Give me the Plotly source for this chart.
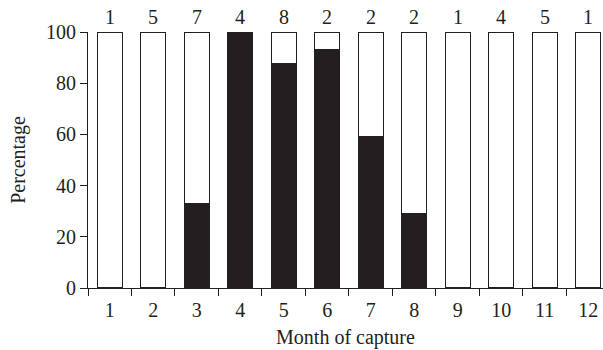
import plotly.graph_objects as go

# Monthly capture data
months = [str(m) for m in range(1, 13)]
pct_black = [0, 0, 33, 100, 87.5, 93, 59, 29, 0, 0, 0, 0]
pct_white = [100 - v for v in pct_black]
sample_n = [1, 5, 7, 4, 8, 2, 2, 2, 1, 4, 5, 1]

FONT = "Liberation Serif, Times New Roman, serif"
INK = "#231f20"
FS = 20

fig = go.Figure()
fig.add_trace(go.Bar(
    x=months, y=pct_black, marker=dict(color=INK, line=dict(color=INK, width=1.2)),
    width=0.58, showlegend=False,
))
fig.add_trace(go.Bar(
    x=months, y=pct_white, marker=dict(color="white", line=dict(color=INK, width=1.2)),
    width=0.58, showlegend=False,
))

# sample sizes above each bar (category index positions)
for i, n in enumerate(sample_n):
    fig.add_annotation(x=i, y=100, text=str(n), showarrow=False,
                       yanchor="bottom", yshift=2,
                       font=dict(family=FONT, size=FS, color=INK))

fig.update_layout(
    width=603, height=350,
    margin=dict(l=88, r=0, t=32, b=62),
    barmode="stack", bargap=0.42,
    plot_bgcolor="white", paper_bgcolor="white",
    font=dict(family=FONT, size=FS, color=INK),
)
fig.update_xaxes(
    type="category", range=[-0.5, 11.34],
    showline=True, linecolor=INK, linewidth=1.2,
    ticks="outside", tickson="boundaries", ticklen=7, tickcolor=INK, tickwidth=1.2,
    ticklabelstandoff=4,
    showgrid=False, zeroline=False,
    title=dict(text="Month of capture", standoff=9, font=dict(size=FS)),
)
fig.update_yaxes(
    range=[0, 100], tickvals=[0, 20, 40, 60, 80, 100],
    showline=True, linecolor=INK, linewidth=1.2,
    ticks="outside", ticklen=7, tickcolor=INK, tickwidth=1.2,
    showgrid=False, zeroline=False,
    title=dict(text="Percentage", standoff=14, font=dict(size=FS)),
)

fig.write_html("out.html")
